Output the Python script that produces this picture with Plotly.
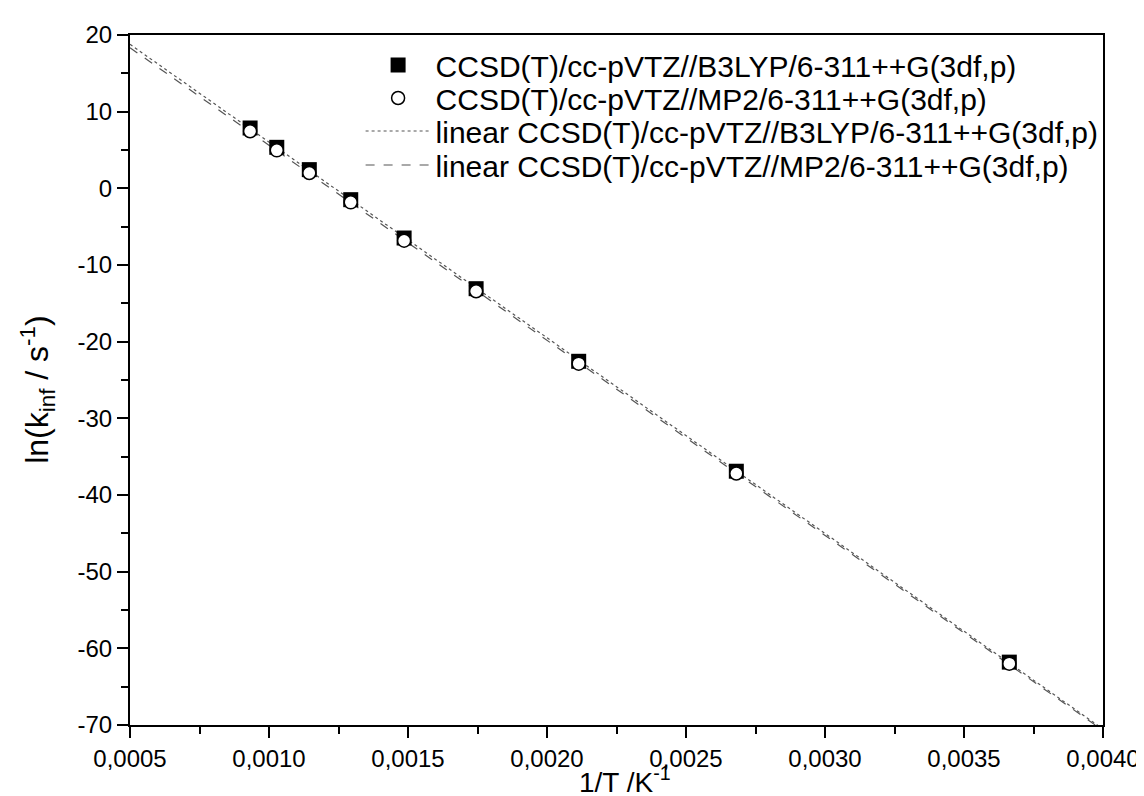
import numpy as np
import plotly.graph_objects as go

# Data
inv_T = [0.000932, 0.001028, 0.001145, 0.001294, 0.001486, 0.001745, 0.002114, 0.002681, 0.003663]
ln_k_b3lyp = [7.87, 5.35, 2.44, -1.48, -6.48, -13.09, -22.56, -36.9, -61.8]
ln_k_mp2 = [7.44, 4.96, 2.0, -1.83, -6.83, -13.43, -22.87, -37.2, -62.0]

x_tick_vals = [0.0005, 0.0010, 0.0015, 0.0020, 0.0025, 0.0030, 0.0035, 0.0040]
x_tick_text = ["0,0005", "0,0010", "0,0015", "0,0020", "0,0025", "0,0030", "0,0035", "0,0040"]
y_tick_vals = [-70, -60, -50, -40, -30, -20, -10, 0, 10, 20]
y_tick_text = ["-70", "-60", "-50", "-40", "-30", "-20", "-10", "0", "10", "20"]

name_b3 = "CCSD(T)/cc-pVTZ//B3LYP/6-311++G(3df,p)"
name_mp2 = "CCSD(T)/cc-pVTZ//MP2/6-311++G(3df,p)"

x_fit = np.array([0.0005, 0.0040])
p_b3 = np.polyfit(inv_T, ln_k_b3lyp, 1)
p_mp2 = np.polyfit(inv_T, ln_k_mp2, 1)

FONT = "Liberation Sans, Arial, sans-serif"
LINE_COLOR = "#555555"

fig = go.Figure()
fig.add_trace(go.Scatter(x=x_fit, y=np.polyval(p_b3, x_fit), mode="lines",
                         line=dict(color=LINE_COLOR, width=1.2, dash="dot"), showlegend=False))
fig.add_trace(go.Scatter(x=x_fit, y=np.polyval(p_mp2, x_fit), mode="lines",
                         line=dict(color=LINE_COLOR, width=1.2, dash="dash"), showlegend=False))
fig.add_trace(go.Scatter(x=inv_T, y=ln_k_b3lyp, mode="markers", name=name_b3, legend="legend",
                         marker=dict(symbol="square", size=15, color="black",
                                     line=dict(color="black", width=0))))
fig.add_trace(go.Scatter(x=inv_T, y=ln_k_mp2, mode="markers", name=name_mp2, legend="legend2",
                         marker=dict(symbol="circle", size=13, color="white",
                                     line=dict(color="black", width=1.5))))
fig.add_trace(go.Scatter(x=[None], y=[None], mode="lines", name="linear " + name_b3, legend="legend3",
                         line=dict(color=LINE_COLOR, width=1.2, dash="dot")))
fig.add_trace(go.Scatter(x=[None], y=[None], mode="lines", name="linear " + name_mp2, legend="legend4",
                         line=dict(color=LINE_COLOR, width=1.2, dash="dash")))

axis_common = dict(
    showline=True, linecolor="black", linewidth=2, mirror=True,
    ticks="outside", ticklen=11, tickwidth=2, tickcolor="black",
    showgrid=False, zeroline=False,
    tickfont=dict(family=FONT, size=24, color="black"),
)

def leg(ypix):
    return dict(x=0.237, y=(717 - ypix) / 690, xanchor="left", yanchor="middle",
                bgcolor="rgba(0,0,0,0)", font=dict(family=FONT, size=30, color="black"),
                itemwidth=65)

fig.update_layout(
    width=1144, height=796,
    paper_bgcolor="white", plot_bgcolor="white",
    margin=dict(l=122, r=40, t=27, b=79),
    font=dict(family=FONT, color="black"),
    xaxis=dict(range=[0.0005, 0.0040], tickvals=x_tick_vals, ticktext=x_tick_text,
               minor=dict(tickvals=[0.00075, 0.00125, 0.00175, 0.00225, 0.00275, 0.00325, 0.00375],
                          ticks="outside", ticklen=7, tickwidth=2, tickcolor="black"),
               **axis_common),
    yaxis=dict(range=[-70, 20], tickvals=y_tick_vals, ticktext=y_tick_text,
               minor=dict(tickvals=list(range(-65, 20, 10)),
                          ticks="outside", ticklen=7, tickwidth=2, tickcolor="black"),
               **axis_common),
    legend=leg(57),
    legend2=leg(90),
    legend3=leg(123),
    legend4=leg(157),
    annotations=[
        dict(text="1/T /K<sup>-1</sup>", xref="paper", yref="paper",
             x=(622 - 122) / 982, y=(717 - 772) / 690, xanchor="center", yanchor="middle",
             showarrow=False, font=dict(family=FONT, size=28, color="black")),
        dict(text="ln(k<sub>inf</sub> / s<sup>-1</sup>)", xref="paper", yref="paper",
             x=(28 - 122) / 982, y=(717 - 382) / 690, xanchor="center", yanchor="middle",
             textangle=-90, showarrow=False, font=dict(family=FONT, size=32, color="black")),
    ],
)

fig.write_html("out.html")
